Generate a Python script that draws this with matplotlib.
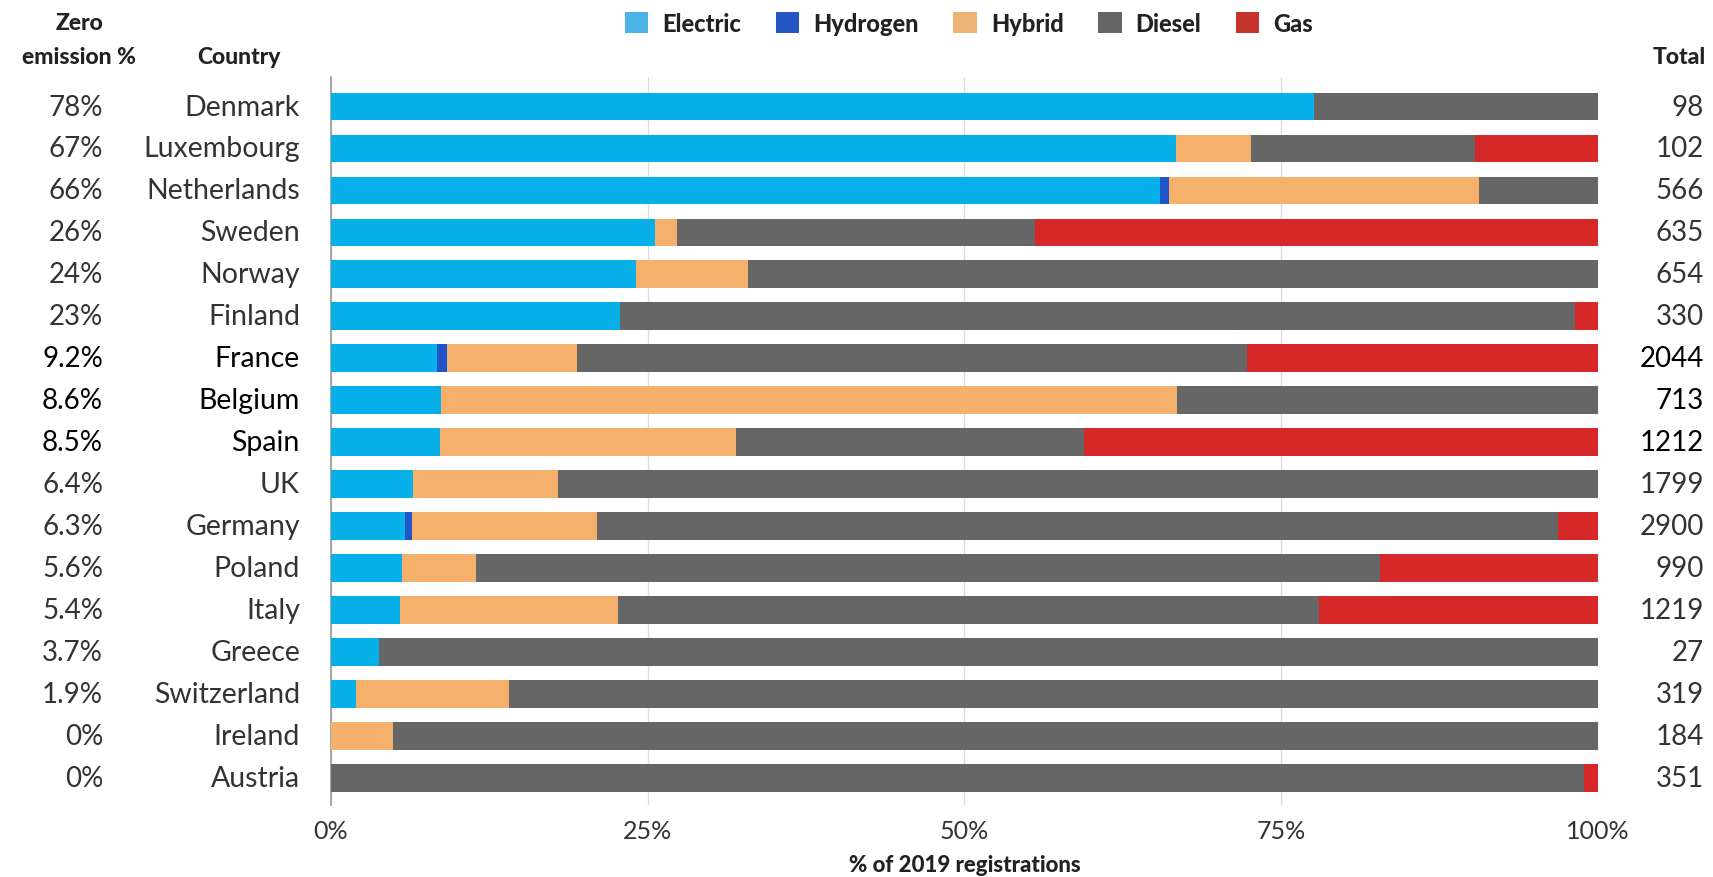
import matplotlib
matplotlib.use("Agg")
import matplotlib.pyplot as plt
from matplotlib.patches import Patch
import numpy as np

plt.rcParams['font.family'] = ['Lato', 'DejaVu Sans']

countries = ["Denmark", "Luxembourg", "Netherlands", "Sweden", "Norway", "Finland",
             "France", "Belgium", "Spain", "UK", "Germany", "Poland", "Italy",
             "Greece", "Switzerland", "Ireland", "Austria"]
zero_emission = ["78%", "67%", "66%", "26%", "24%", "23%", "9.2%", "8.6%", "8.5%",
                 "6.4%", "6.3%", "5.6%", "5.4%", "3.7%", "1.9%", "0%", "0%"]
totals = ["98", "102", "566", "635", "654", "330", "2044", "713", "1212", "1799",
          "2900", "990", "1219", "27", "319", "184", "351"]
electric = [77.6, 66.7, 65.4, 25.6, 24.1, 22.8, 8.4, 8.7, 8.6, 6.5, 5.9, 5.6, 5.5, 3.8, 2.0, 0.0, 0.0]
hydrogen = [0.0, 0.0, 0.7, 0.0, 0.0, 0.0, 0.8, 0.0, 0.0, 0.0, 0.5, 0.0, 0.0, 0.0, 0.0, 0.0, 0.0]
hybrid = [0.0, 5.9, 24.5, 1.7, 8.8, 0.0, 10.2, 58.1, 23.4, 11.4, 14.6, 5.9, 17.2, 0.0, 12.1, 4.9, 0.0]
diesel = [22.4, 17.7, 9.4, 28.3, 67.1, 75.4, 52.9, 33.2, 27.4, 82.1, 75.8, 71.3, 55.3, 96.2, 85.9, 95.1, 98.9]
gas = [0.0, 9.7, 0.0, 44.4, 0.0, 1.8, 27.7, 0.0, 40.6, 0.0, 3.2, 17.2, 22.0, 0.0, 0.0, 0.0, 1.1]
series_names = ["Electric", "Hydrogen", "Hybrid", "Diesel", "Gas"]
bar_colors = ["#08B0EA", "#1F55C8", "#F5B06C", "#666666", "#D62828"]
legend_colors = ["#4DB3E6", "#2355C5", "#EDB375", "#666666", "#C4332C"]
xticks = [0, 25, 50, 75, 100]
xtick_labels = ["0%", "25%", "50%", "75%", "100%"]

fig = plt.figure(figsize=(17.13, 8.78), dpi=100)
ax = fig.add_axes([0.193, 0.082, 0.740, 0.829])

y = np.arange(len(countries))
data = [electric, hydrogen, hybrid, diesel, gas]
left = np.zeros(len(countries))
for vals, col in zip(data, bar_colors):
    vals = np.array(vals)
    ax.barh(y, vals, left=left, height=0.66, color=col, zorder=3)
    left += vals

ax.set_xlim(0, 100)
ax.set_ylim(len(countries) - 1 + 0.65, -0.7)
for s in ["top", "right", "bottom"]:
    ax.spines[s].set_visible(False)
ax.spines["left"].set_color("#999999")
ax.spines["left"].set_linewidth(1.2)
ax.set_xticks(xticks)
ax.set_xticklabels(xtick_labels, fontsize=18, color="#333333")
ax.tick_params(axis="x", length=0, pad=10)
ax.set_yticks([])
ax.grid(axis="x", color="#dddddd", linewidth=1.0, zorder=0)
ax.set_axisbelow(True)

fig.text(0.5 * (331 + 1598) / 1713, 1 - 866 / 878, "% of 2019 registrations", ha="center", va="center",
         fontsize=16, fontweight=900, color="#222222")

dark_rows = {"France", "Belgium", "Spain"}
for i, (c, z, t) in enumerate(zip(countries, zero_emission, totals)):
    colr = "#000000" if c in dark_rows else "#333333"
    yd = ax.transData.transform((0, i))[1] / fig.bbox.height
    fig.text(103 / 1713, yd, z, ha="right", va="center", fontsize=20, color=colr)
    fig.text(300 / 1713, yd, c, ha="right", va="center", fontsize=20.5, color=colr)
    fig.text(1704 / 1713, yd, t, ha="right", va="center", fontsize=20, color=colr)

hdr = dict(fontsize=16.5, fontweight=900, color="#222222", va="center")
fig.text(79 / 1713, 1 - 23 / 878, "Zero", ha="center", **hdr)
fig.text(79 / 1713, 1 - 57 / 878, "emission %", ha="center", **hdr)
fig.text(239 / 1713, 1 - 57 / 878, "Country", ha="center", **hdr)
fig.text(1706 / 1713, 1 - 57 / 878, "Total", ha="right", **hdr)

handles = [Patch(facecolor=c, edgecolor="none") for c in legend_colors]
fig.legend(handles, series_names, loc="center", bbox_to_anchor=(969 / 1713, 1 - 24 / 878),
           ncol=5, frameon=False, prop={"size": 17, "weight": 900},
           handlelength=1.0, handleheight=1.0, handletextpad=0.6, columnspacing=1.45,
           labelcolor="#222222")

fig.savefig("out.png", dpi=100, facecolor="white")
